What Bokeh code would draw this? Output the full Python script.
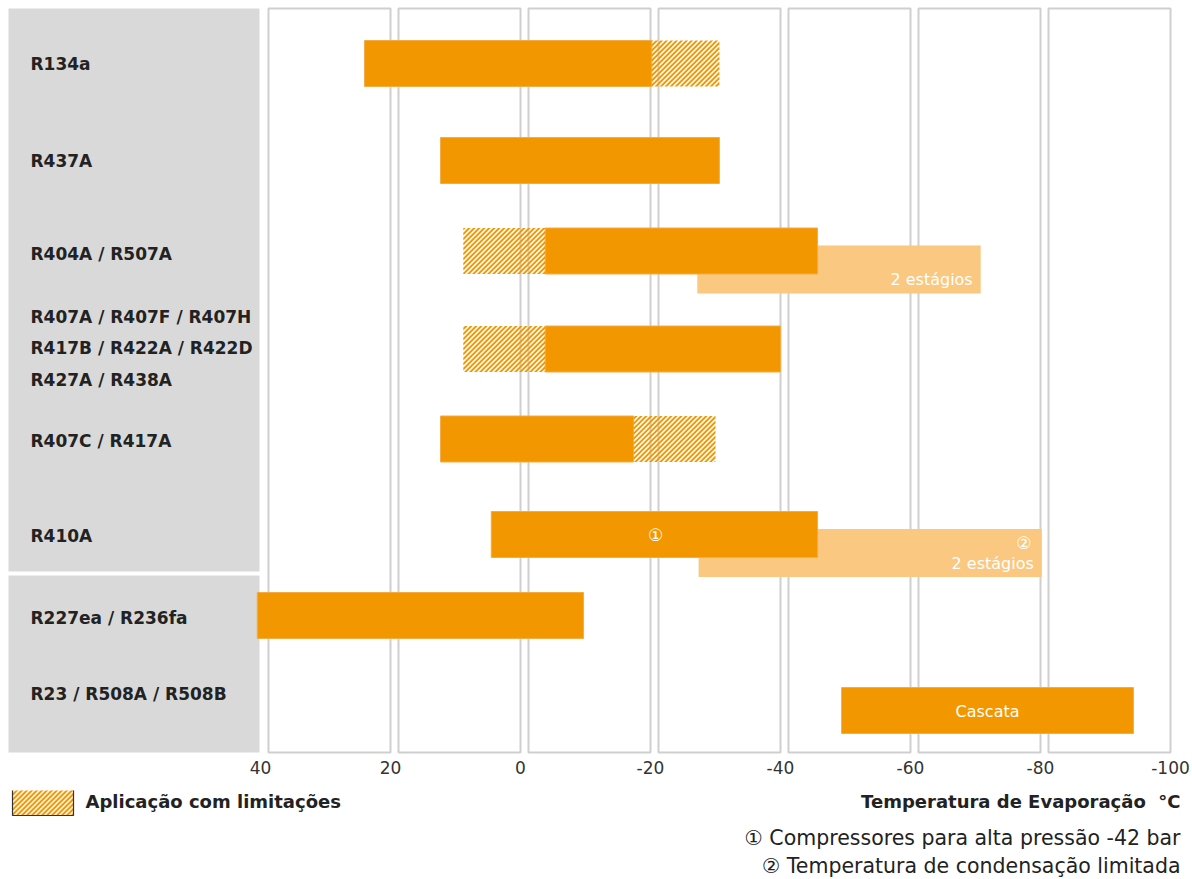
from bokeh.plotting import figure
from bokeh.models import Range1d, FixedTicker
from bokeh.layouts import column
from bokeh.embed import file_html
from bokeh.resources import INLINE
from bokeh.core.properties import value

# ---------------- data ----------------
refrigerants = [
    "R134a",
    "R437A",
    "R404A / R507A",
    "R407A / R407F / R407H\nR417B / R422A / R422D\nR427A / R438A",
    "R407C / R417A",
    "R410A",
    "R227ea / R236fa",
    "R23 / R508A / R508B",
]
# full-application range (°C evaporation)
solid_start = [24.0, 12.3, -3.8, -3.8, 12.3, 4.5, 40.5, -49.4]
solid_end = [-20.2, -30.6, -45.7, -40.0, -17.4, -45.7, -9.7, -94.3]
# application with limitations (row index, start, end)
limited_row = [0, 2, 3, 4]
limited_start = [-20.2, 8.8, 8.8, -17.4]
limited_end = [-30.6, -3.8, -3.8, -30.0]
# two-stage ranges (row index, start, end)
stage_row = [2, 5]
stage_start = [-27.2, -27.4]
stage_end = [-70.8, -80.2]
stage_label = ["2 estágios", "2 estágios"]
ticks = [40, 20, 0, -20, -40, -60, -80, -100]

# ---------------- layout / style ----------------
ORANGE = "#F29700"
LIGHT = "#FAC880"
GRAY = "#D9D9D9"
FONT = "DejaVu Sans"
W, H = 1192, 879
H1 = 790
PX_PER_DEG = 6.5
X0_PX = 260  # pixel of 40 °C
x_left = 40 + X0_PX / PX_PER_DEG
x_right = 40 - (W - X0_PX) / PX_PER_DEG
FRAME_H = 754

BAR_Y = [63, 160, 250.5, 348.5, 438.5, 534, 615, 710]
LABEL_Y = [63, 160, 253, 348, 440, 535, 617, 693]
BAR_H = 46
STAGE_DY = 18.5
STAGE_H = 48
PANEL_TOP, PANEL_BOT = 8, 752
GAP = 8 / PX_PER_DEG
STRIPE_P = 5.0   # stripe period (px)
STRIPE_W = 2.7   # orange part of period (px)


def clip(poly, a, b, c):
    """keep the part of convex polygon where a*x + b*y + c >= 0"""
    out = []
    n = len(poly)
    for i in range(n):
        p1, p2 = poly[i], poly[(i + 1) % n]
        f1 = a * p1[0] + b * p1[1] + c
        f2 = a * p2[0] + b * p2[1] + c
        if f1 >= 0:
            out.append(p1)
        if (f1 >= 0) != (f2 >= 0):
            t = f1 / (f1 - f2)
            out.append((p1[0] + t * (p2[0] - p1[0]), p1[1] + t * (p2[1] - p1[1])))
    return out


def stripes(x0, x1, y0, y1, xmap):
    """diagonal '/' stripes clipped to the pixel rectangle; x returned through xmap"""
    rect = [(x0, y0), (x1, y0), (x1, y1), (x0, y1)]
    xs, ys = [], []
    k = int((x0 + y0) // STRIPE_P) - 1
    while k * STRIPE_P <= x1 + y1:
        c0 = k * STRIPE_P
        poly = clip(rect, 1, 1, -c0)
        poly = clip(poly, -1, -1, c0 + STRIPE_W) if poly else poly
        if len(poly) >= 3:
            xs.append([xmap(px) for px, _ in poly])
            ys.append([py for _, py in poly])
        k += 1
    return xs, ys


def deg_to_px(v):
    return X0_PX + (40 - v) * PX_PER_DEG


def px_to_deg(px):
    return 40 - (px - X0_PX) / PX_PER_DEG


p = figure(width=W, height=H1, x_range=Range1d(x_left, x_right),
           y_range=Range1d(FRAME_H, 0), output_backend="svg",
           toolbar_location=None, y_axis_location=None,
           min_border_left=0, min_border_right=0, min_border_top=0,
           min_border_bottom=H1 - FRAME_H)
p.outline_line_color = None
p.grid.visible = False
p.background_fill_color = "white"
p.border_fill_color = "white"

# column panels
p.quad(left=[a - GAP for a in ticks[:-1]], right=ticks[1:],
       top=PANEL_TOP, bottom=PANEL_BOT, fill_color="white",
       line_color="#CFCFCF", line_width=2)

# gray label area (split after R410A)
lab_l = x_left - 8 / PX_PER_DEG
lab_r = 40 + 1 / PX_PER_DEG
p.quad(left=[lab_l, lab_l], right=[lab_r, lab_r], top=[PANEL_TOP, 575],
       bottom=[571, PANEL_BOT], fill_color=GRAY, line_color=None)

# two-stage bars (behind)
st_y = [BAR_Y[i] + STAGE_DY for i in stage_row]
p.hbar(y=st_y, left=stage_start, right=stage_end, height=STAGE_H,
       fill_color=LIGHT, line_color=None)

# main bars
p.hbar(y=BAR_Y, left=solid_start, right=solid_end, height=BAR_H,
       fill_color=ORANGE, line_color="#F5AC45", line_width=1)

# limited (hatched) bars, stripes computed from the data ranges
hx, hy = [], []
for r, s, e in zip(limited_row, limited_start, limited_end):
    xs, ys = stripes(deg_to_px(s), deg_to_px(e), BAR_Y[r] - BAR_H / 2,
                     BAR_Y[r] + BAR_H / 2, px_to_deg)
    hx += xs
    hy += ys
p.patches(xs=hx, ys=hy, fill_color=ORANGE, line_color=None)

# row labels
p.text(x=[lab_l - 22 / PX_PER_DEG] * len(refrigerants), y=LABEL_Y,
       text=refrigerants, text_font=value(FONT), text_font_style="bold",
       text_font_size="17px", text_color="#222222", text_baseline="middle",
       text_align="left", text_line_height=1.57)

# texts inside bars
p.text(x=stage_end, y=[y + STAGE_H / 2 - 14 for y in st_y], text=stage_label,
       text_font=value(FONT), text_font_size="16px", text_color="white",
       text_align="right", text_baseline="middle", x_offset=-8)
p.text(x=[stage_end[1]], y=[st_y[1] - 10], text=["②"],
       text_font=value(FONT), text_font_size="17px", text_color="white",
       text_align="center", text_baseline="middle", x_offset=-18)
p.text(x=[-20.8], y=[BAR_Y[5]], text=["①"],
       text_font=value(FONT), text_font_size="17px", text_color="white",
       text_align="center", text_baseline="middle")
p.text(x=[(solid_start[7] + solid_end[7]) / 2], y=[BAR_Y[7] + 1], text=["Cascata"],
       text_font=value(FONT), text_font_size="16px", text_color="white",
       text_align="center", text_baseline="middle")

ax = p.xaxis[0]
ax.ticker = FixedTicker(ticks=ticks)
ax.major_label_overrides = {t: str(t) for t in ticks}
ax.axis_line_color = None
ax.major_tick_line_color = None
ax.minor_tick_line_color = None
ax.major_label_standoff = 0
ax.major_label_text_font = FONT
ax.major_label_text_font_size = "17px"
ax.major_label_text_color = "#333333"

# ---------------- bottom: legend + notes ----------------
q = figure(width=W, height=H - H1, x_range=Range1d(0, W),
           y_range=Range1d(H, H1), output_backend="svg",
           toolbar_location=None, x_axis_location=None, y_axis_location=None,
           min_border=0)
q.outline_line_color = None
q.grid.visible = False
q.quad(left=[12], right=[73], top=[786], bottom=[815], fill_color="#FFF6E8",
       line_color=None)
lx, ly = stripes(12, 73, 786, 815, lambda v: v)
q.patches(xs=lx, ys=ly, fill_color=ORANGE, line_color=None)
q.quad(left=[12], right=[73], top=[786], bottom=[815], fill_color=None,
       line_color="#333333", line_width=1.2)
q.text(x=[85], y=[801], text=["Aplicação com limitações"], text_font=value(FONT),
       text_font_style="bold", text_font_size="18px", text_color="#222222",
       text_baseline="middle")
q.text(x=[1180], y=[801], text=["Temperatura de Evaporação\u00a0\u00a0°C"],
       text_font=value(FONT), text_font_style="bold", text_font_size="18px",
       text_color="#222222", text_baseline="middle", text_align="right")
q.text(x=[1180, 1180], y=[837, 865],
       text=["① Compressores para alta pressão -42 bar",
             "② Temperatura de condensação limitada"],
       text_font=value(FONT), text_font_size="20.5px", text_color="#222222",
       text_baseline="middle", text_align="right")

layout = column(p, q, spacing=0)
open("out.html", "w").write(file_html(layout, INLINE))
